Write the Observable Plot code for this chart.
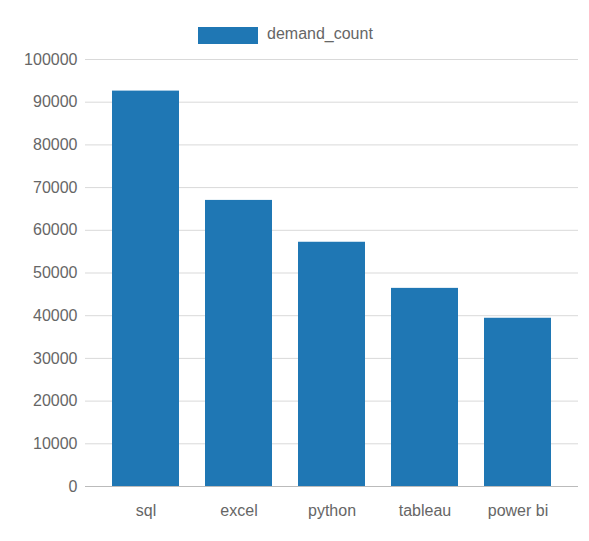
<!DOCTYPE html>
<html><head><meta charset="utf-8">
<script src="https://cdn.jsdelivr.net/npm/d3@7"></script>
<script src="https://cdn.jsdelivr.net/npm/@observablehq/plot@0.6"></script>
<style>
body{margin:0;background:#fff;font-family:"Liberation Sans",Arial,sans-serif;}
#legend{height:50px;position:relative;}
#legend .sw{position:absolute;left:198px;top:27px;width:60px;height:17px;background:#1f77b4;}
#legend .lb{position:absolute;left:267px;top:25px;font-size:16px;color:#666;}
</style></head>
<body>
<div id="legend"><div class="sw"></div><div class="lb">demand_count</div></div>
<div id="chart"></div>
<script>
let skills = ["sql", "excel", "python", "tableau", "power bi"];
let demandCount = [92600, 67000, 57200, 46400, 39400];
let yTicks = [0, 10000, 20000, 30000, 40000, 50000, 60000, 70000, 80000, 90000, 100000];

let rows = skills.map((s, i) => ({skill: s, demand_count: demandCount[i]}));

let plot = Plot.plot({
    width: 589,
    height: 491,
    marginTop: 9,
    marginBottom: 55,
    marginLeft: 85,
    marginRight: 11,
    style: {fontSize: "16px", fontFamily: "Liberation Sans, Arial, sans-serif", color: "#666"},
    x: {domain: skills, label: null, padding: 0.28, tickSize: 0, tickPadding: 18},
    y: {domain: [0, 100000], ticks: yTicks, label: null, tickSize: 0, tickPadding: 8, tickFormat: d => String(d)},
    marks: [
        Plot.gridY(yTicks, {stroke: "#d9d9d9", strokeOpacity: 1}),
        Plot.barY(rows, {x: "skill", y: "demand_count", fill: "#1f77b4"}),
        Plot.ruleY([0], {stroke: "#bbb"})
    ]
});
document.getElementById("chart").append(plot);
</script>
</body></html>
